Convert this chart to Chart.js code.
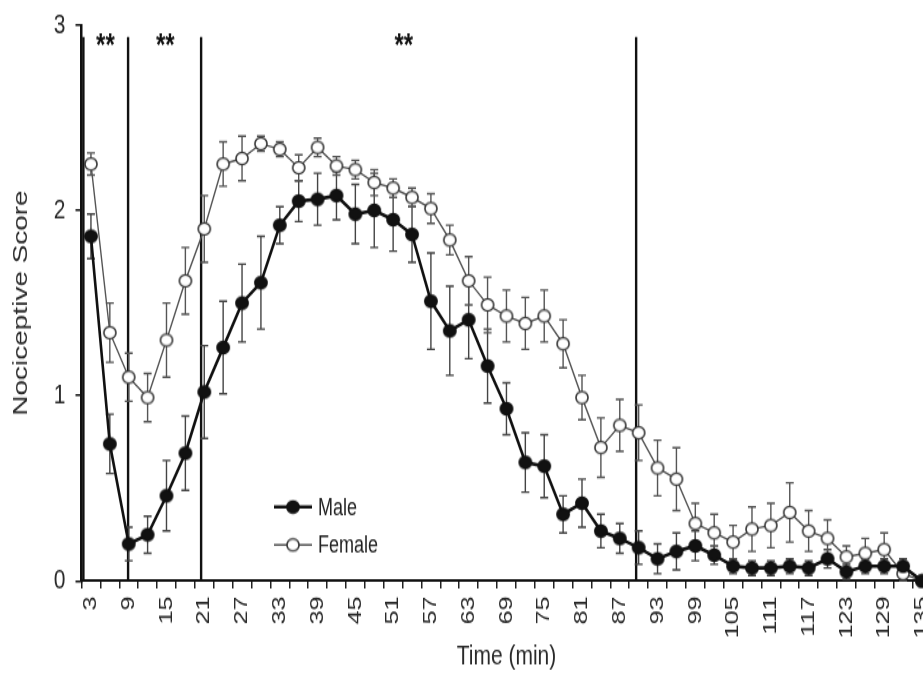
<!DOCTYPE html>
<html><head><meta charset="utf-8">
<script src="https://cdn.jsdelivr.net/npm/chart.js@4.4.1/dist/chart.umd.min.js"></script>
<style>
html,body{margin:0;padding:0;background:#fff;overflow:hidden;width:923px;height:675px}
#wrap{position:absolute;left:0;top:0;width:940px;height:507px;transform-origin:0 0;transform:scale(1,1.33136)}
canvas{display:block}
</style></head><body>
<div id="wrap"><canvas id="c" width="940" height="507"></canvas></div>
<script>
// ---- data ----
const timeMin = [3,6,9,12,15,18,21,24,27,30,33,36,39,42,45,48,51,54,57,60,63,66,69,72,75,78,81,84,87,90,93,96,99,102,105,108,111,114,117,120,123,126,129,132,135];
const maleScore = [1.86,0.74,0.20,0.25,0.46,0.69,1.02,1.26,1.50,1.61,1.92,2.05,2.06,2.08,1.98,2.00,1.95,1.87,1.51,1.35,1.41,1.16,0.93,0.64,0.62,0.36,0.42,0.27,0.23,0.18,0.12,0.16,0.19,0.14,0.08,0.07,0.07,0.08,0.07,0.12,0.05,0.08,0.08,0.08,0.00];
const maleSEM = [0.12,0.16,0.09,0.10,0.19,0.20,0.25,0.25,0.21,0.25,0.10,0.11,0.14,0.13,0.16,0.20,0.17,0.15,0.26,0.24,0.21,0.20,0.14,0.16,0.17,0.10,0.13,0.09,0.08,0.09,0.08,0.10,0.08,0.05,0.04,0.04,0.04,0.04,0.04,0.05,0.04,0.04,0.04,0.04,0.00];
const femaleScore = [2.25,1.34,1.10,0.99,1.30,1.62,1.90,2.25,2.28,2.36,2.33,2.23,2.34,2.24,2.22,2.15,2.12,2.07,2.01,1.84,1.62,1.49,1.43,1.39,1.43,1.28,0.99,0.72,0.84,0.80,0.61,0.55,0.31,0.26,0.21,0.28,0.30,0.37,0.27,0.23,0.13,0.15,0.17,0.04,0.00];
const femaleSEM = [0.06,0.16,0.13,0.13,0.20,0.18,0.18,0.12,0.12,0.04,0.04,0.07,0.05,0.05,0.05,0.07,0.05,0.05,0.08,0.08,0.13,0.15,0.14,0.14,0.14,0.13,0.12,0.16,0.14,0.15,0.15,0.17,0.11,0.10,0.09,0.12,0.12,0.16,0.11,0.10,0.06,0.08,0.09,0.04,0.00];
const yTicks = [0,1,2,3];
const phaseDividers = [1.8, 8.9, 20.5, 89.6];          // minutes
const sigMarks = [{t:5.3, text:'**'}, {t:14.8, text:'**'}, {t:52.7, text:'**'}];
const seriesNames = ['Male','Female'];
const xTitle = 'Time (min)';
const yTitle = 'Nociceptive Score';

// ---- rendering helpers ----
const SY = 1.33136;               // vertical stretch of the reference picture
const FONT = '"Liberation Sans", Arial, sans-serif';
const tToIndex = t => (t - timeMin[0]) / (timeMin[1] - timeMin[0]);

function makeMarker(fill, stroke, lw, r) {
  const k = 4, w = 16, h = 12;
  const c = document.createElement('canvas');
  c.width = w * k; c.height = h * k;
  const g = c.getContext('2d');
  g.translate(c.width / 2, c.height / 2);
  g.scale(1, 1 / SY);
  g.beginPath(); g.arc(0, 0, r * k, 0, Math.PI * 2);
  g.fillStyle = fill; g.fill();
  g.lineWidth = lw * k; g.strokeStyle = stroke; g.stroke();
  return new Promise(res => {
    const img = new Image();
    img.onload = () => { img.width = w; img.height = h; res(img); };
    img.src = c.toDataURL();
  });
}

const errorBars = {
  id: 'errorBars',
  beforeDatasetsDraw(chart) {
    const ctx = chart.ctx, ys = chart.scales.y, xs = chart.scales.x, a = chart.chartArea;
    ctx.save();
    ctx.strokeStyle = '#111'; ctx.lineWidth = 2.4;
    const yTop = ys.getPixelForValue(2.935);
    phaseDividers.forEach(t => {
      const x = xs.getPixelForValue(tToIndex(t));
      ctx.beginPath(); ctx.moveTo(x, yTop); ctx.lineTo(x, a.bottom); ctx.stroke();
    });
    ctx.restore();
    chart.data.datasets.forEach((ds, di) => {
      const meta = chart.getDatasetMeta(di);
      ctx.save();
      ctx.strokeStyle = ds.errColor; ctx.lineWidth = 1.4;
      meta.data.forEach((pt, i) => {
        const v = ds.data[i], e = ds.sem[i];
        if (!e) return;
        const yt = ys.getPixelForValue(v + e), yb = ys.getPixelForValue(v - e);
        ctx.beginPath();
        ctx.moveTo(pt.x, yt); ctx.lineTo(pt.x, yb);
        ctx.moveTo(pt.x - 4, yt); ctx.lineTo(pt.x + 4, yt);
        ctx.moveTo(pt.x - 4, yb); ctx.lineTo(pt.x + 4, yb);
        ctx.stroke();
      });
      ctx.restore();
    });
  },
  afterDatasetsDraw(chart) {
    const ctx = chart.ctx, ys = chart.scales.y, xs = chart.scales.x;
    ctx.save();
    const fs = 24;
    ctx.font = 'bold ' + fs + 'px ' + FONT;
    ctx.fillStyle = '#111'; ctx.textAlign = 'center'; ctx.textBaseline = 'alphabetic';
    sigMarks.forEach(m => {
      ctx.fillText(m.text, xs.getPixelForValue(tToIndex(m.t)), ys.getPixelForValue(2.93) + 0.575 * fs);
    });
    const rows = [380.8, 409.3];
    chart.data.datasets.forEach((ds, di) => {
      const y = rows[di];
      ctx.strokeStyle = ds.borderColor; ctx.lineWidth = ds.borderWidth;
      ctx.beginPath(); ctx.moveTo(274, y); ctx.lineTo(312, y); ctx.stroke();
      const img = ds.pointStyle;
      ctx.drawImage(img, 293 - img.width / 2, y - img.height / 2, img.width, img.height);
      ctx.font = '18px ' + FONT; ctx.fillStyle = '#222';
      ctx.textAlign = 'left'; ctx.textBaseline = 'middle';
      ctx.fillText(ds.label, 318, y + 1);
    });
    ctx.restore();
  }
};

Promise.all([makeMarker('#111', '#111', 1.2, 6.3), makeMarker('#fff', '#333', 1.6, 6.0)]).then(([mImg, fImg]) => {
  new Chart(document.getElementById('c'), {
    type: 'line',
    data: {
      labels: timeMin.map(String),
      datasets: [
        { label: seriesNames[0], data: maleScore, sem: maleSEM, errColor: '#444',
          borderColor: '#111', borderWidth: 2.6, pointStyle: mImg, pointRadius: 6, tension: 0, clip: false },
        { label: seriesNames[1], data: femaleScore, sem: femaleSEM, errColor: '#555',
          borderColor: '#555', borderWidth: 1.4, pointStyle: fImg, pointRadius: 6, tension: 0, clip: false }
      ]
    },
    options: {
      responsive: false, animation: false, devicePixelRatio: 1,
      events: [],
      layout: { padding: { top: 18.8, right: 3, left: 0, bottom: 0 } },
      plugins: { legend: { display: false }, tooltip: { enabled: false } },
      scales: {
        x: {
          type: 'category', offset: true,
          grid: { offset: true, drawOnChartArea: false, tickLength: 5.5, color: '#222', lineWidth: 1.5 },
          border: { color: '#111', width: 2 },
          ticks: { autoSkip: false, maxRotation: 90, minRotation: 90, padding: 6, color: '#2a2a2a',
                   font: { family: FONT, size: 19 },
                   callback: (v, i) => (i % 2 === 0 ? timeMin[i] : '') },
          title: { display: true, text: xTitle, color: '#2a2a2a', font: { family: FONT, size: 21 }, padding: { top: 0, bottom: 1 } },
          afterFit: s => { s.height = 507 - 436.4; s.paddingLeft = 0; s.paddingRight = 0; }
        },
        y: {
          min: 0, max: 3,
          afterBuildTicks: s => { s.ticks = yTicks.map(v => ({ value: v })); },
          grid: { drawOnChartArea: false, tickLength: 6, color: '#111', lineWidth: 1.5 },
          border: { color: '#111', width: 2.5 },
          ticks: { padding: 10, color: '#2a2a2a', font: { family: FONT, size: 21 } },
          title: { display: true, text: yTitle, color: '#2a2a2a', font: { family: FONT, size: 21 }, padding: { top: 9, bottom: 0 } },
          afterFit: s => { s.width = 81.5; s.paddingTop = 0; s.paddingBottom = 0; }
        }
      }
    },
    plugins: [errorBars]
  });
});
</script>
</body></html>
